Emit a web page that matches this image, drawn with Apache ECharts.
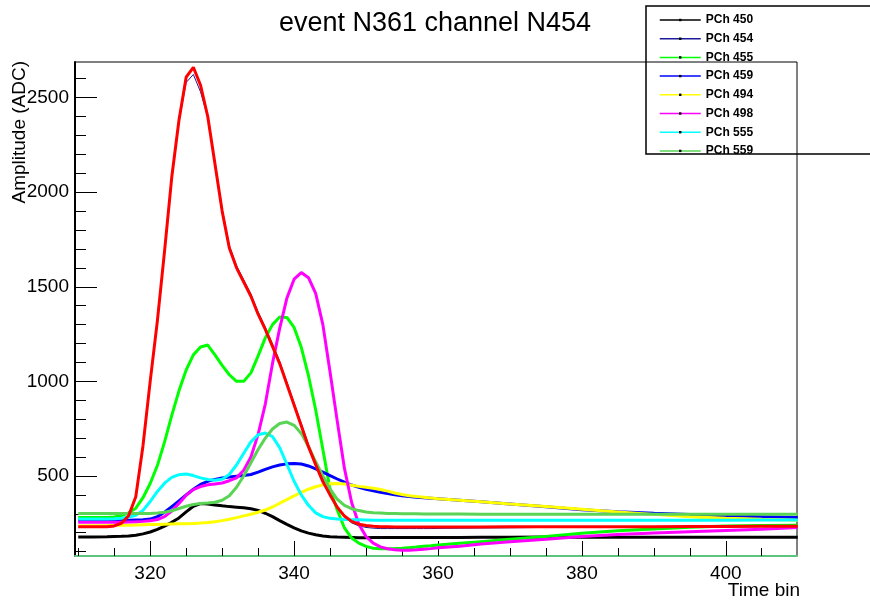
<!DOCTYPE html>
<html>
<head>
<meta charset="utf-8">
<script src="https://cdn.jsdelivr.net/npm/echarts@6/dist/echarts.min.js"></script>
<style>html,body{margin:0;padding:0;background:#fff}#c{width:870px;height:604px}</style>
</head>
<body>
<div id="c"></div>
<script>
const bins = [310,312,314,
  315,316,317,318,319,320,321,322,323,324,325,326,327,328,329,330,331,332,333,334,335,336,337,338,339,
  340,341,342,343,344,345,346,347,348,349,350,351,352,353,354,355,356,357,358,359,360,
  363,366,370,375,380,385,390,395,400,405,410];

const mainCh = [231,231,232, 236,250,290,390,660, 1000,1320,1690,2080,2380,2608,2660,2565,2400,2150, 1900,1705,1600,1525,1450,1355,1275,1185,1094,985, 875,765,655,560,470,400,335,288,260,245, 238,234,232,231,230,230,230,230,230,230, 230, 230,230,231,231,232,232,232,233,233,234,234];
const pch450 = [178,178,179, 180,181,183,187,194, 204,218,235,255,278,310,340,354,352,347, 342,338,335,332,327,318,303,285,264,244, 226,210,198,189,183,179,177,176,175,174, 174,175,175,175,175,175,175,175,175,175, 175, 175,176,176,177,176,176,176,176,176,176,176];
const pch454 = [228,228,229, 233,246,285,385,650, 990,1310,1680,2070,2370,2580,2622,2530,2395,2160, 1912,1717,1612,1537,1462,1367,1287,1197,1106,997, 887,777,667,572,482,410,340,283,252,236, 228,224,222,222,222,222,222,222,222,222, 223, 224,225,226,228,229,230,231,231,232,232,233];
const pch455 = [280,280,281, 283,290,305,330,385, 460,555,680,820,950,1060,1140,1182,1192,1140, 1085,1035,1000,1000,1045,1135,1230,1300,1340,1338, 1285,1180,1030,850,640,430,320,225,172,145, 128,118,115,115,116,118,121,124,128,131, 135, 144,153,165,180,197,210,220,229,235,238,240];
const pch459 = [264,264,264, 265,265,266,267,268, 272,285,308,338,368,400,430,455,472,482, 489,494,498,502,508,520,535,548,558,564, 566,563,553,538,520,502,484,467,452,440, 430,422,414,407,401,396,392,388,385,382, 379, 372,364,352,337,322,311,303,296,290,285,280];
const pch494 = [236,237,238, 239,240,240,241,242, 243,244,245,246,247,248,249,251,254,258, 264,271,280,289,298,308,320,336,356,375, 395,413,430,443,453,459,460,457,451,445, 440,435,428,420,410,402,396,391,387,383, 380, 372,364,352,338,324,310,297,285,277,271,266];
const pch498 = [255,255,255, 255,256,257,258,260, 263,270,285,315,355,398,428,444,453,458, 463,475,490,530,600,720,880,1095,1280,1440, 1540,1575,1548,1465,1300,1050,790,540,360,245, 180,145,125,115,110,107,108,110,113,116, 120, 128,140,152,165,180,190,198,205,212,219,227];
const pch555 = [272,272,273, 274,277,283,292,318, 365,418,462,493,507,510,502,490,481,477, 483,508,558,620,680,718,727,708,650,562, 472,400,345,305,285,276,272,270,269,268, 267,266,266,266,266,266,266,266,266,266, 266, 266,266,266,266,266,266,266,266,266,267,267];
const pch559 = [301,301,301, 301,301,301,301,301, 302,304,308,316,328,340,349,354,357,361, 372,395,440,500,570,640,700,748,777,785, 768,725,655,575,500,432,377,345,327,317, 310,306,304,302,301,300,300,300,299,299, 299, 299,298,298,298,298,298,298,298,298,298,298];

const xMajor = [320,340,360,380,400];
const xMinor = [310,315,325,330,335,345,350,355,365,370,375,385,390,395,405];
const yMajor = [500,1000,1500,2000,2500];
const yMinor = [100,200,300,400,600,700,800,900,1100,1200,1300,1400,1600,1700,1800,1900,2100,2200,2300,2400,2600];
const legendNames = ['PCh 450','PCh 454','PCh 455','PCh 459','PCh 494','PCh 498','PCh 555','PCh 559'];

const FONT = '"Liberation Sans", Arial, Helvetica, sans-serif';

function mk(name, vals, color, width) {
  return {
    name: name, type: 'line',
    data: bins.map((b, i) => [b, vals[i]]),
    symbol: 'rect', symbolSize: 2, showSymbol: false,
    itemStyle: { color: '#000' },
    lineStyle: { color: color, width: width },
    animation: false, silent: true, clip: true
  };
}

const chart = echarts.init(document.getElementById('c'), null, { renderer: 'canvas' });
chart.setOption({
  backgroundColor: '#fff',
  animation: false,
  title: {
    text: 'event N361 channel N454', left: 'center', top: 5,
    textStyle: { fontFamily: FONT, fontSize: 27, fontWeight: 'normal', color: '#000' }
  },
  legend: {
    data: legendNames, orient: 'vertical', left: 654, top: 9,
    itemWidth: 41, itemHeight: 3, itemGap: 6.7,
    lineStyle: { width: 1.5 },
    textStyle: { fontFamily: FONT, fontSize: 12, fontWeight: 'bold', color: '#000', lineHeight: 12 }
  },
  grid: { left: 75, right: 73, top: 62, bottom: 48, show: true, borderColor: '#000', borderWidth: 1, backgroundColor: 'transparent' },
  xAxis: [{
    type: 'value', min: 309.55, max: 409.9, position: 'bottom',
    axisLine: { show: true, onZero: false, lineStyle: { color: '#5cc47c', width: 2 } },
    axisTick: { show: true, inside: true, length: 15, customValues: xMajor, lineStyle: { color: '#000', width: 1 } },
    axisLabel: { customValues: xMajor, formatter: v => String(v), fontFamily: FONT, fontSize: 19, color: '#000', margin: 8 },
    splitLine: { show: false }
  }, {
    type: 'value', min: 309.55, max: 409.9, position: 'bottom',
    axisLine: { show: false, onZero: false },
    axisTick: { show: true, inside: true, length: 8, customValues: xMinor, lineStyle: { color: '#000', width: 1 } },
    axisLabel: { show: false },
    splitLine: { show: false }
  }],
  yAxis: [{
    type: 'value', min: 77, max: 2688, position: 'left',
    axisLine: { show: true, onZero: false, lineStyle: { color: '#000', width: 2 } },
    axisTick: { show: true, inside: true, length: 22, customValues: yMajor, lineStyle: { color: '#000', width: 1 } },
    axisLabel: { customValues: yMajor, formatter: v => String(v), fontFamily: FONT, fontSize: 19, color: '#000', margin: 6 },
    splitLine: { show: false }
  }, {
    type: 'value', min: 77, max: 2688, position: 'left',
    axisLine: { show: false, onZero: false },
    axisTick: { show: true, inside: true, length: 11, customValues: yMinor, lineStyle: { color: '#000', width: 1 } },
    axisLabel: { show: false },
    splitLine: { show: false }
  }],
  graphic: [
    { type: 'rect', shape: { x: 646, y: 6, width: 260, height: 148 }, style: { fill: 'none', stroke: '#000', lineWidth: 1.5 }, z: 100 },
    { type: 'text', x: 20, y: 61, rotation: Math.PI / 2,
      style: { text: 'Amplitude (ADC)', fontFamily: FONT, fontSize: 19, fill: '#000', align: 'right', verticalAlign: 'middle' } },
    { type: 'text', x: 800, y: 591,
      style: { text: 'Time bin', fontFamily: FONT, fontSize: 19, fill: '#000', align: 'right', verticalAlign: 'middle' } }
  ],
  series: [
    mk('PCh 450', pch450, '#000000', 3),
    mk('PCh 454', pch454, '#1a1a9a', 1),
    mk('PCh 455', pch455, '#00ff00', 3),
    mk('PCh 459', pch459, '#0000ff', 3),
    mk('PCh 494', pch494, '#ffff00', 3),
    mk('PCh 498', pch498, '#ff00ff', 3),
    mk('PCh 555', pch555, '#00ffff', 3),
    mk('PCh 559', pch559, '#59d454', 3),
    mk('N454', mainCh, '#ff0000', 3)
  ]
});
</script>
</body>
</html>
